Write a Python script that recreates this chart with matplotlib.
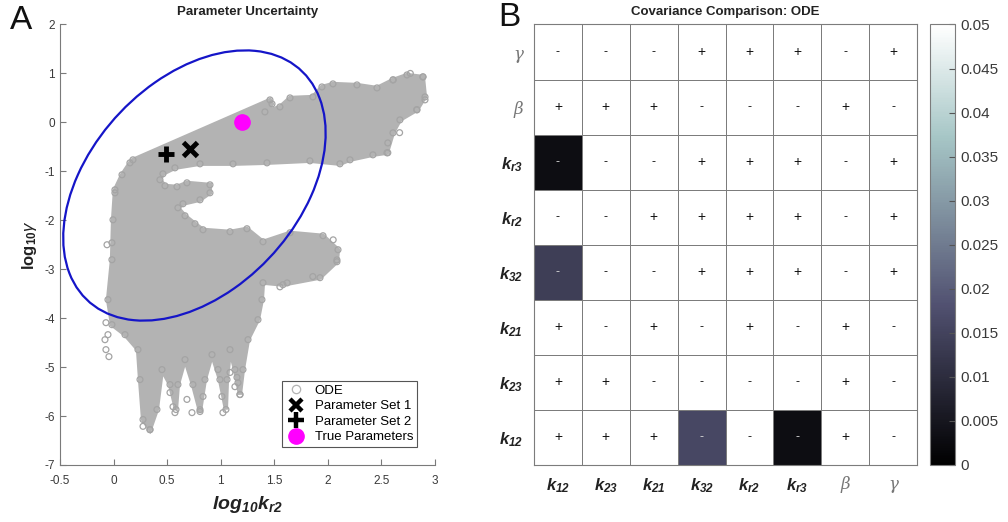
import numpy as np
import matplotlib
matplotlib.use("Agg")
import matplotlib.pyplot as plt
from matplotlib.patches import Ellipse
from matplotlib.lines import Line2D

plt.rcParams['font.family'] = ['Liberation Sans', 'DejaVu Sans']
plt.rcParams['axes.unicode_minus'] = False
plt.rcParams['mathtext.fontset'] = 'custom'
plt.rcParams['mathtext.rm'] = 'Liberation Sans'
plt.rcParams['mathtext.it'] = 'Liberation Sans:italic'
plt.rcParams['mathtext.bf'] = 'Liberation Sans:bold'
plt.rcParams['mathtext.bfit'] = 'Liberation Sans:italic:bold'

# ---- panel A: sampled parameter cloud (outline of the dense ODE samples) ----
cloud_x = [0.153, 0.181, 1.460, 1.479, 1.413, 1.553, 1.647, 1.861, 1.945, 2.048,
           2.272, 2.459, 2.608, 2.739, 2.888, 2.907, 2.832, 2.673, 2.608, 2.552,
           2.421, 2.207, 2.113, 1.833, 1.432, 1.115, 0.807, 0.573, 0.461, 0.433,
           0.480, 0.592, 0.685, 0.900, 0.900, 0.807, 0.648, 0.601, 0.667, 0.760,
           0.835, 1.087, 1.245, 1.395, 1.647, 1.955, 2.095, 2.085, 1.927, 1.581,
           1.395, 1.385, 1.348, 1.255, 1.208, 1.180, 1.133, 1.087, 1.059, 1.049,
           0.993, 0.919, 0.853, 0.807, 0.741, 0.667, 0.601, 0.583, 0.527, 0.452,
           0.405, 0.340, 0.275, 0.247, 0.228, 0.107, -0.015, -0.052, -0.015, -0.005,
           0.013, 0.079]
cloud_y = [-0.827, -0.765, 0.459, 0.378, 0.214, 0.316, 0.500, 0.520, 0.724, 0.786,
           0.765, 0.704, 0.867, 0.969, 0.929, 0.520, 0.255, 0.051, -0.214, -0.622,
           -0.663, -0.765, -0.847, -0.786, -0.827, -0.847, -0.847, -0.929, -1.051, -1.173,
           -1.296, -1.316, -1.235, -1.276, -1.439, -1.582, -1.663, -1.745, -1.908, -2.071,
           -2.194, -2.235, -2.173, -2.439, -2.255, -2.316, -2.602, -2.847, -3.173, -3.316,
           -3.276, -3.622, -4.031, -4.439, -5.051, -5.561, -5.051, -4.643, -5.255, -5.867,
           -5.255, -4.745, -5.255, -5.908, -5.357, -4.847, -5.357, -5.867, -5.357, -5.051,
           -5.867, -6.276, -6.071, -5.255, -4.643, -4.337, -4.133, -3.622, -2.806, -1.990,
           -1.378, -1.071]

# isolated samples outside the dense region
stray_x = [-0.071, -0.052, -0.071, -0.043, -0.080, -0.061, -0.015, 0.527, 0.555, 0.573,
           0.685, 0.732, 0.807, 0.835, 0.975, 1.012, 1.021, 1.087, 1.152, 1.161,
           1.180, 1.133, 0.275, 0.340, 2.085, 1.860, 1.620, 1.553, 2.888, 2.907,
           2.830, 2.670, 2.560, 2.560, 2.610, 2.770, 2.050, 0.013]
stray_y = [-4.092, -4.337, -4.643, -4.786, -4.440, -2.500, -2.460, -5.520, -5.810, -5.930,
           -5.660, -5.930, -5.870, -5.600, -5.050, -5.600, -5.930, -5.110, -5.210, -5.320,
           -5.560, -5.400, -6.210, -6.280, -2.810, -3.150, -3.280, -3.360, 0.930, 0.460,
           0.260, -0.210, -0.420, -0.620, 0.870, 1.000, -2.400, -1.440]

set1 = (0.715, -0.54)
set2 = (0.49, -0.65)
true_params = (1.2, 0.0)

# confidence ellipse: centre and covariance
ell_center = (0.755, -1.29)
ell_cov = np.array([[1.50, 1.31], [1.31, 7.62]])

# ---- panel B: covariance comparison ----
params = [r'$\mathbfit{k}_{\mathbfit{12}}$', r'$\mathbfit{k}_{\mathbfit{23}}$',
          r'$\mathbfit{k}_{\mathbfit{21}}$', r'$\mathbfit{k}_{\mathbfit{32}}$',
          r'$\mathbfit{k}_{\mathbfit{r2}}$', r'$\mathbfit{k}_{\mathbfit{r3}}$',
          'β', 'γ']
# rows in parameter order (k12 first); drawn with k12 at the bottom
signs = [
    "+++---+-",
    "++----+-",
    "+-+-+-+-",
    "---+++-+",
    "--++++-+",
    "---+++-+",
    "+++---+-",
    "---+++-+",
]
cov_diff = [
    [0.05, 0.05, 0.05, 0.016, 0.05, 0.003, 0.05, 0.05],
    [0.05, 0.05, 0.05, 0.05, 0.05, 0.05, 0.05, 0.05],
    [0.05, 0.05, 0.05, 0.05, 0.05, 0.05, 0.05, 0.05],
    [0.014, 0.05, 0.05, 0.05, 0.05, 0.05, 0.05, 0.05],
    [0.05, 0.05, 0.05, 0.05, 0.05, 0.05, 0.05, 0.05],
    [0.003, 0.05, 0.05, 0.05, 0.05, 0.05, 0.05, 0.05],
    [0.05, 0.05, 0.05, 0.05, 0.05, 0.05, 0.05, 0.05],
    [0.05, 0.05, 0.05, 0.05, 0.05, 0.05, 0.05, 0.05],
]
cbar_ticks = [0, 0.005, 0.01, 0.015, 0.02, 0.025, 0.03, 0.035, 0.04, 0.045, 0.05]

gray = '#b3b3b3'
ring = '#a4a4a4'
axcol = '#7a7a7a'
txtcol = '#3a3a3a'
gridcol = '#7c7c7c'

fig = plt.figure(figsize=(10.08, 5.22), dpi=100)

# ================= panel A =================
ax = fig.add_axes([0.0595, 0.1092, 0.372, 0.8439])
ax.fill(cloud_x, cloud_y, facecolor=gray, edgecolor=gray, lw=3, zorder=1)
ax.scatter(cloud_x + stray_x, cloud_y + stray_y, s=18, facecolors='none',
           edgecolors=ring, linewidths=0.9, zorder=1)

vals, vecs = np.linalg.eigh(ell_cov)
angle = np.degrees(np.arctan2(vecs[1, 1], vecs[0, 1]))
ax.add_patch(Ellipse(ell_center, 2 * np.sqrt(vals[1]), 2 * np.sqrt(vals[0]),
                     angle=angle, fill=False, edgecolor='#1515c8', lw=1.6, zorder=3))

ax.plot(*set1, marker='x', color='k', ms=10, mew=3.5, ls='none', zorder=4)
ax.plot(*set2, marker='+', color='k', ms=12, mew=3.5, ls='none', zorder=4)
ax.plot(*true_params, marker='o', color='#ff00ff', ms=11, ls='none', zorder=4)

ax.set_xlim(-0.5, 3)
ax.set_ylim(-7, 2)
ax.set_xticks(np.arange(-0.5, 3.01, 0.5))
ax.set_xticklabels(['-0.5', '0', '0.5', '1', '1.5', '2', '2.5', '3'])
ax.set_yticks(np.arange(-7, 3))
for s in ['top', 'right']:
    ax.spines[s].set_visible(False)
for s in ['left', 'bottom']:
    ax.spines[s].set_color(axcol)
ax.tick_params(direction='in', length=4, color=axcol, labelcolor=txtcol, labelsize=8.5)
ax.tick_params(axis='x', pad=7)
ax.set_title('Parameter Uncertainty', fontsize=9.5, fontweight='bold', color='#222222', pad=7)
ax.set_xlabel(r'$\mathbfit{log}_{\mathbfit{10}}\mathbfit{k}_{\mathbfit{r2}}$',
              fontsize=14, color='#222222', labelpad=5)
ax.set_ylabel(r'$\mathbf{log}_{\mathbf{10}}\gamma$', fontsize=12, color='#222222', labelpad=4)

handles = [
    Line2D([], [], marker='o', ls='none', mfc='none', mec=gray, ms=6, mew=0.9),
    Line2D([], [], marker='x', ls='none', color='k', ms=9, mew=3.2),
    Line2D([], [], marker='+', ls='none', color='k', ms=11, mew=3.2),
    Line2D([], [], marker='o', ls='none', color='#ff00ff', ms=11),
]
leg = ax.legend(handles, ['ODE', 'Parameter Set 1', 'Parameter Set 2', 'True Parameters'],
                loc='lower right', bbox_to_anchor=(0.97, 0.025), fontsize=9.5,
                frameon=True, fancybox=False, edgecolor='#555555', framealpha=1,
                borderpad=0.3, labelspacing=0.25, handletextpad=0.6, handlelength=1.6)
leg.get_frame().set_linewidth(0.8)

fig.text(0.010, 0.945, 'A', fontsize=24, color='#111111')

# ================= panel B =================
bx = fig.add_axes([0.5298, 0.1092, 0.380, 0.8439])
n = len(params)
mesh = bx.pcolormesh(np.arange(n + 1), np.arange(n + 1), np.array(cov_diff),
                     cmap='bone', vmin=0, vmax=0.05, edgecolors=gridcol, linewidth=0.6)
for i in range(n):
    for j in range(n):
        dark = cov_diff[i][j] < 0.03
        bx.text(j + 0.5, i + 0.5, signs[i][j], ha='center', va='center',
                fontsize=10 if signs[i][j] == '+' else 9,
                color='#d8d8d8' if dark else '#111111')
bx.set_xlim(0, n)
bx.set_ylim(0, n)
bx.set_xticks(np.arange(n) + 0.5)
bx.set_yticks(np.arange(n) + 0.5)
bx.set_xticklabels(params)
bx.set_yticklabels(params)
bx.tick_params(length=0, labelsize=12, labelcolor='#222222', pad=8)
for lab in bx.get_xticklabels() + bx.get_yticklabels():
    if lab.get_text() in ('β', 'γ'):
        lab.set_fontfamily('DejaVu Serif')
        lab.set_fontstyle('italic')
        lab.set_color('#777777')
        lab.set_fontsize(12)
for s in bx.spines.values():
    s.set_color(gridcol)
    s.set_linewidth(0.8)
bx.set_title('Covariance Comparison: ODE', fontsize=9.5, fontweight='bold', color='#222222', pad=7)

cax = fig.add_axes([0.9226, 0.1092, 0.0248, 0.8439])
cb = fig.colorbar(mesh, cax=cax)
cb.set_ticks(cbar_ticks)
cb.set_ticklabels(['0', '0.005', '0.01', '0.015', '0.02', '0.025', '0.03',
                   '0.035', '0.04', '0.045', '0.05'])
cb.outline.set_edgecolor(gridcol)
cax.tick_params(direction='in', length=4, color='#555555', labelsize=11,
                labelcolor=txtcol, pad=4)

fig.text(0.494, 0.950, 'B', fontsize=24, color='#111111')

fig.savefig('out.png', dpi=100)
